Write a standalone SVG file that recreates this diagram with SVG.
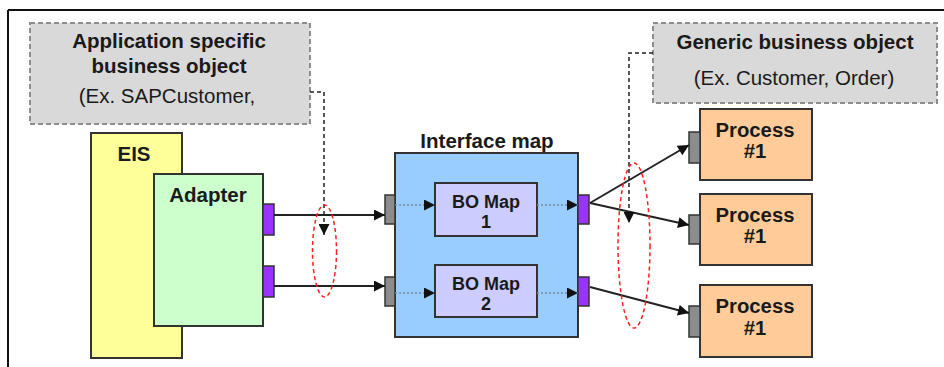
<svg xmlns="http://www.w3.org/2000/svg" width="944" height="367" viewBox="0 0 944 367">
<defs>
<style>
text{font-family:"Liberation Sans",Arial,sans-serif;fill:#1a1a1a;text-anchor:middle}
.b{font-weight:bold;font-size:20.5px}
.r{font-size:20.5px}
.bo{font-weight:bold;font-size:18px}
.p{font-weight:bold;font-size:20.3px}
.box{stroke:#333;stroke-width:2}
.note{fill:#d9d9d9;stroke:#8c8c8c;stroke-width:2;stroke-dasharray:5 3}
.purple{fill:#9933ff;stroke:#333;stroke-width:1.5}
.grayp{fill:#8c8c8c;stroke:#333;stroke-width:1.5}
.ln{stroke:#222;stroke-width:2;fill:none}
.dot{stroke:#7a8a9a;stroke-width:1.5;stroke-dasharray:2 2;fill:none}
.dash{stroke:#222;stroke-width:1.5;stroke-dasharray:4 3;fill:none}
.ell{stroke:#ff2020;stroke-width:1.5;stroke-dasharray:4 3;fill:none}
</style>
<marker id="ahb" viewBox="0 0 10 10" refX="10" refY="5" markerWidth="13" markerHeight="11" markerUnits="userSpaceOnUse" orient="auto">
<path d="M0,0 L10,5 L0,10 z" fill="#111"/>
</marker>
</defs>
<rect width="944" height="367" fill="#fff"/>
<g id="frame">
<line x1="8" y1="10" x2="944" y2="10" stroke="#111" stroke-width="2"/>
<line x1="8" y1="10" x2="8" y2="367" stroke="#111" stroke-width="2"/>
</g>
<g id="note-app">
<rect class="note" x="30" y="23" width="280" height="101"/>
<text class="b" x="169" y="48">Application specific</text>
<text class="b" x="169" y="73">business object</text>
<text class="r" x="167" y="103">(Ex. SAPCustomer,</text>
</g>
<g id="note-generic">
<rect class="note" x="653" y="23" width="284" height="80"/>
<text class="b" x="795" y="49">Generic business object</text>
<text class="r" x="794" y="85">(Ex. Customer, Order)</text>
</g>
<g id="eis">
<rect class="box" x="91" y="133" width="91" height="225" fill="#ffff99"/>
<text class="b" x="134" y="161">EIS</text>
</g>
<g id="adapter">
<rect class="box" x="154" y="174" width="109" height="152" fill="#ccffcc"/>
<text class="b" x="208" y="202">Adapter</text>
<rect class="purple" x="263" y="204" width="11" height="31"/>
<rect class="purple" x="263" y="266" width="11" height="31"/>
</g>
<g id="interface-map">
<text class="b" x="487" y="148">Interface map</text>
<rect class="box" x="395" y="153" width="183" height="184" fill="#99ccff"/>
<rect class="grayp" x="385" y="195" width="10" height="29"/>
<rect class="grayp" x="385" y="277" width="10" height="29"/>
<rect class="purple" x="578" y="195" width="11" height="29"/>
<rect class="purple" x="578" y="277" width="11" height="29"/>
</g>
<g id="bomap1">
<rect class="box" x="435" y="183" width="102" height="53" fill="#ccccff"/>
<text class="bo" x="486" y="208">BO Map</text>
<text class="bo" x="486" y="228">1</text>
</g>
<g id="bomap2">
<rect class="box" x="435" y="265" width="102" height="52" fill="#ccccff"/>
<text class="bo" x="486" y="290">BO Map</text>
<text class="bo" x="486" y="310">2</text>
</g>
<g id="process1">
<rect class="box" x="700" y="109" width="112" height="71" fill="#ffcc99"/>
<rect class="grayp" x="689" y="132" width="11" height="31"/>
<text class="p" x="755" y="137">Process</text>
<text class="p" x="755" y="158">#1</text>
</g>
<g id="process2">
<rect class="box" x="700" y="194" width="112" height="71" fill="#ffcc99"/>
<rect class="grayp" x="689" y="215" width="11" height="29"/>
<text class="p" x="755" y="222">Process</text>
<text class="p" x="755" y="243">#1</text>
</g>
<g id="process3">
<rect class="box" x="700" y="285" width="112" height="72" fill="#ffcc99"/>
<rect class="grayp" x="689" y="306" width="11" height="31"/>
<text class="p" x="755" y="313">Process</text>
<text class="p" x="755" y="335">#1</text>
</g>
<g id="connectors">
<line class="ln" x1="274" y1="215" x2="385" y2="215" marker-end="url(#ahb)"/>
<line class="ln" x1="274" y1="286" x2="385" y2="286" marker-end="url(#ahb)"/>
<line class="dot" x1="395" y1="205" x2="435" y2="205" marker-end="url(#ahb)"/>
<line class="dot" x1="395" y1="293" x2="435" y2="293" marker-end="url(#ahb)"/>
<line class="dot" x1="537" y1="205" x2="578" y2="205" marker-end="url(#ahb)"/>
<line class="dot" x1="537" y1="293" x2="578" y2="293" marker-end="url(#ahb)"/>
<line class="ln" x1="590" y1="203" x2="689" y2="145" marker-end="url(#ahb)"/>
<line class="ln" x1="590" y1="203" x2="689" y2="225" marker-end="url(#ahb)"/>
<line class="ln" x1="590" y1="287" x2="689" y2="313" marker-end="url(#ahb)"/>
<polyline class="dash" points="310,92 324,92 324,235" marker-end="url(#ahb)"/>
<polyline class="dash" points="653,53 629,53 629,223" stroke="#666" marker-end="url(#ahb)"/>
<ellipse class="ell" cx="324.5" cy="251" rx="12" ry="46"/>
<ellipse class="ell" cx="634" cy="245.5" rx="16" ry="82.5"/>
</g>
</svg>
